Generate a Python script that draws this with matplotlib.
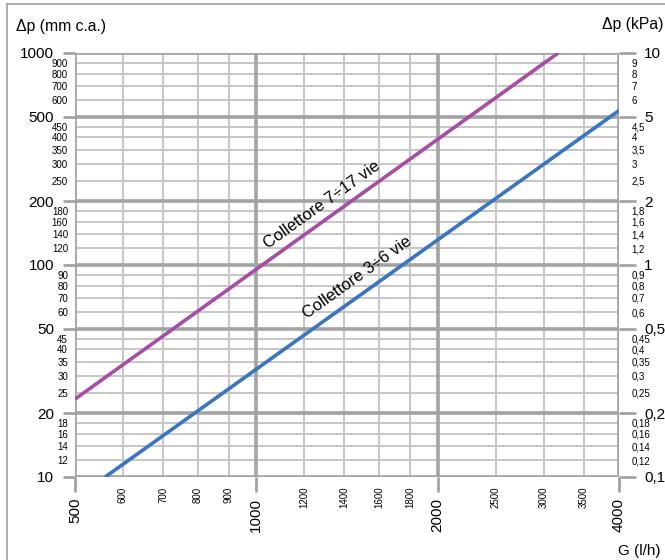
import matplotlib
matplotlib.use("Agg")
import matplotlib.pyplot as plt
from matplotlib.lines import Line2D

# ---- data ----
g_7_17 = [500, 3170]
dp_7_17 = [23.3, 1000]
g_3_6 = [561, 4000]
dp_3_6 = [10, 535]

x_major = [500, 1000, 2000, 4000]
x_minor = [600, 700, 800, 900, 1200, 1400, 1600, 1800, 2500, 3000, 3500]
y_major = [10, 20, 50, 100, 200, 500, 1000]
y_minor = [12, 14, 16, 18, 25, 30, 35, 40, 45, 60, 70, 80, 90,
           120, 140, 160, 180, 250, 300, 350, 400, 450, 600, 700, 800, 900]
kpa_major = ["0,1", "0,2", "0,5", "1", "2", "5", "10"]
kpa_minor = ["0,12", "0,14", "0,16", "0,18", "0,25", "0,3", "0,35", "0,4", "0,45",
             "0,6", "0,7", "0,8", "0,9", "1,2", "1,4", "1,6", "1,8",
             "2,5", "3", "3,5", "4", "4,5", "6", "7", "8", "9"]

plt.rcParams['font.family'] = ['Liberation Sans', 'DejaVu Sans']
NARROW = ['Liberation Sans Narrow', 'Liberation Sans', 'DejaVu Sans']

MAJ_C = '#a3a3a3'
MIN_C = '#c6c6c6'
PURPLE = '#a64ea6'
BLUE = '#3a74c2'

fig = plt.figure(figsize=(6.65, 5.6), dpi=100)
ax = fig.add_axes([75/665, 1-477/560, (619-75)/665, (477-53)/560])
ax.set_xscale('log')
ax.set_yscale('log')
ax.set_xlim(500, 4000)
ax.set_ylim(10, 1000)
for s in ax.spines.values():
    s.set_visible(False)

# grid
for v in x_minor:
    ax.axvline(v, color=MIN_C, lw=1.4, zorder=1)
for v in y_minor:
    ax.axhline(v, color=MIN_C, lw=1.4, zorder=1)
for v in x_major:
    ax.axvline(v, color=MAJ_C, lw=2.6, zorder=2)
for v in y_major:
    ax.axhline(v, color=MAJ_C, lw=2.6, zorder=2)

# ticks x
ax.set_xticks(x_major)
ax.set_xticklabels([str(v) for v in x_major], rotation=90, fontsize=11)
ax.set_xticks(x_minor, minor=True)
ax.set_xticklabels([str(v) for v in x_minor], minor=True, rotation=90, fontsize=7,
                   family=NARROW)
ax.tick_params(axis='x', which='major', length=11, width=2, color=MAJ_C, pad=4)
ax.tick_params(axis='x', which='minor', length=0, pad=7)

# ticks y left
ax.set_yticks(y_major)
ax.set_yticklabels([str(v) for v in y_major], fontsize=11)
ax.set_yticks(y_minor, minor=True)
ax.set_yticklabels([str(v) for v in y_minor], minor=True, fontsize=7, family=NARROW)
ax.tick_params(axis='y', which='major', length=9, width=2, color=MAJ_C, pad=6)
ax.tick_params(axis='y', which='minor', length=0, pad=5)

# right axis in kPa
ax2 = ax.twinx()
ax2.set_yscale('log')
ax2.set_ylim(10, 1000)
for s in ax2.spines.values():
    s.set_visible(False)
ax2.set_yticks(y_major)
ax2.set_yticklabels(kpa_major, fontsize=11)
ax2.set_yticks(y_minor, minor=True)
ax2.set_yticklabels(kpa_minor, minor=True, fontsize=7, family=NARROW)
ax2.tick_params(axis='y', which='major', length=12, width=2, color=MAJ_C, pad=6)
ax2.tick_params(axis='y', which='minor', length=0, pad=9)

# data lines
ax.plot(g_7_17, dp_7_17, color=PURPLE, lw=2.6, zorder=5, solid_capstyle='butt')
ax.plot(g_3_6, dp_3_6, color=BLUE, lw=2.6, zorder=5, solid_capstyle='butt')

ax.text(1286, 192, "Collettore 7÷17 vie", rotation=35.6, ha='center', va='center',
        fontsize=12, family=NARROW, rotation_mode='anchor', zorder=6)
ax.text(1471, 87, "Collettore 3÷6 vie", rotation=35.6, ha='center', va='center',
        fontsize=12, family=NARROW, rotation_mode='anchor', zorder=6)

# axis titles
fig.text(16/665, 1-27/560, "Δp (mm c.a.)", fontsize=11.3, ha='left', va='center')
fig.text(663/665, 1-25/560, "Δp (kPa)", fontsize=11.3, ha='right', va='center')
fig.text(661/665, 1-551/560, "G (l/h)", fontsize=11, ha='right', va='center')

# outer frame
fig.add_artist(Line2D([7/665, 7/665], [0, 1-4/560], color='#a0a0a0', lw=1.2,
                      transform=fig.transFigure))
fig.add_artist(Line2D([7/665, 1], [1-4/560, 1-4/560], color='#a0a0a0', lw=1.2,
                      transform=fig.transFigure))

fig.savefig("out.png", dpi=100)
